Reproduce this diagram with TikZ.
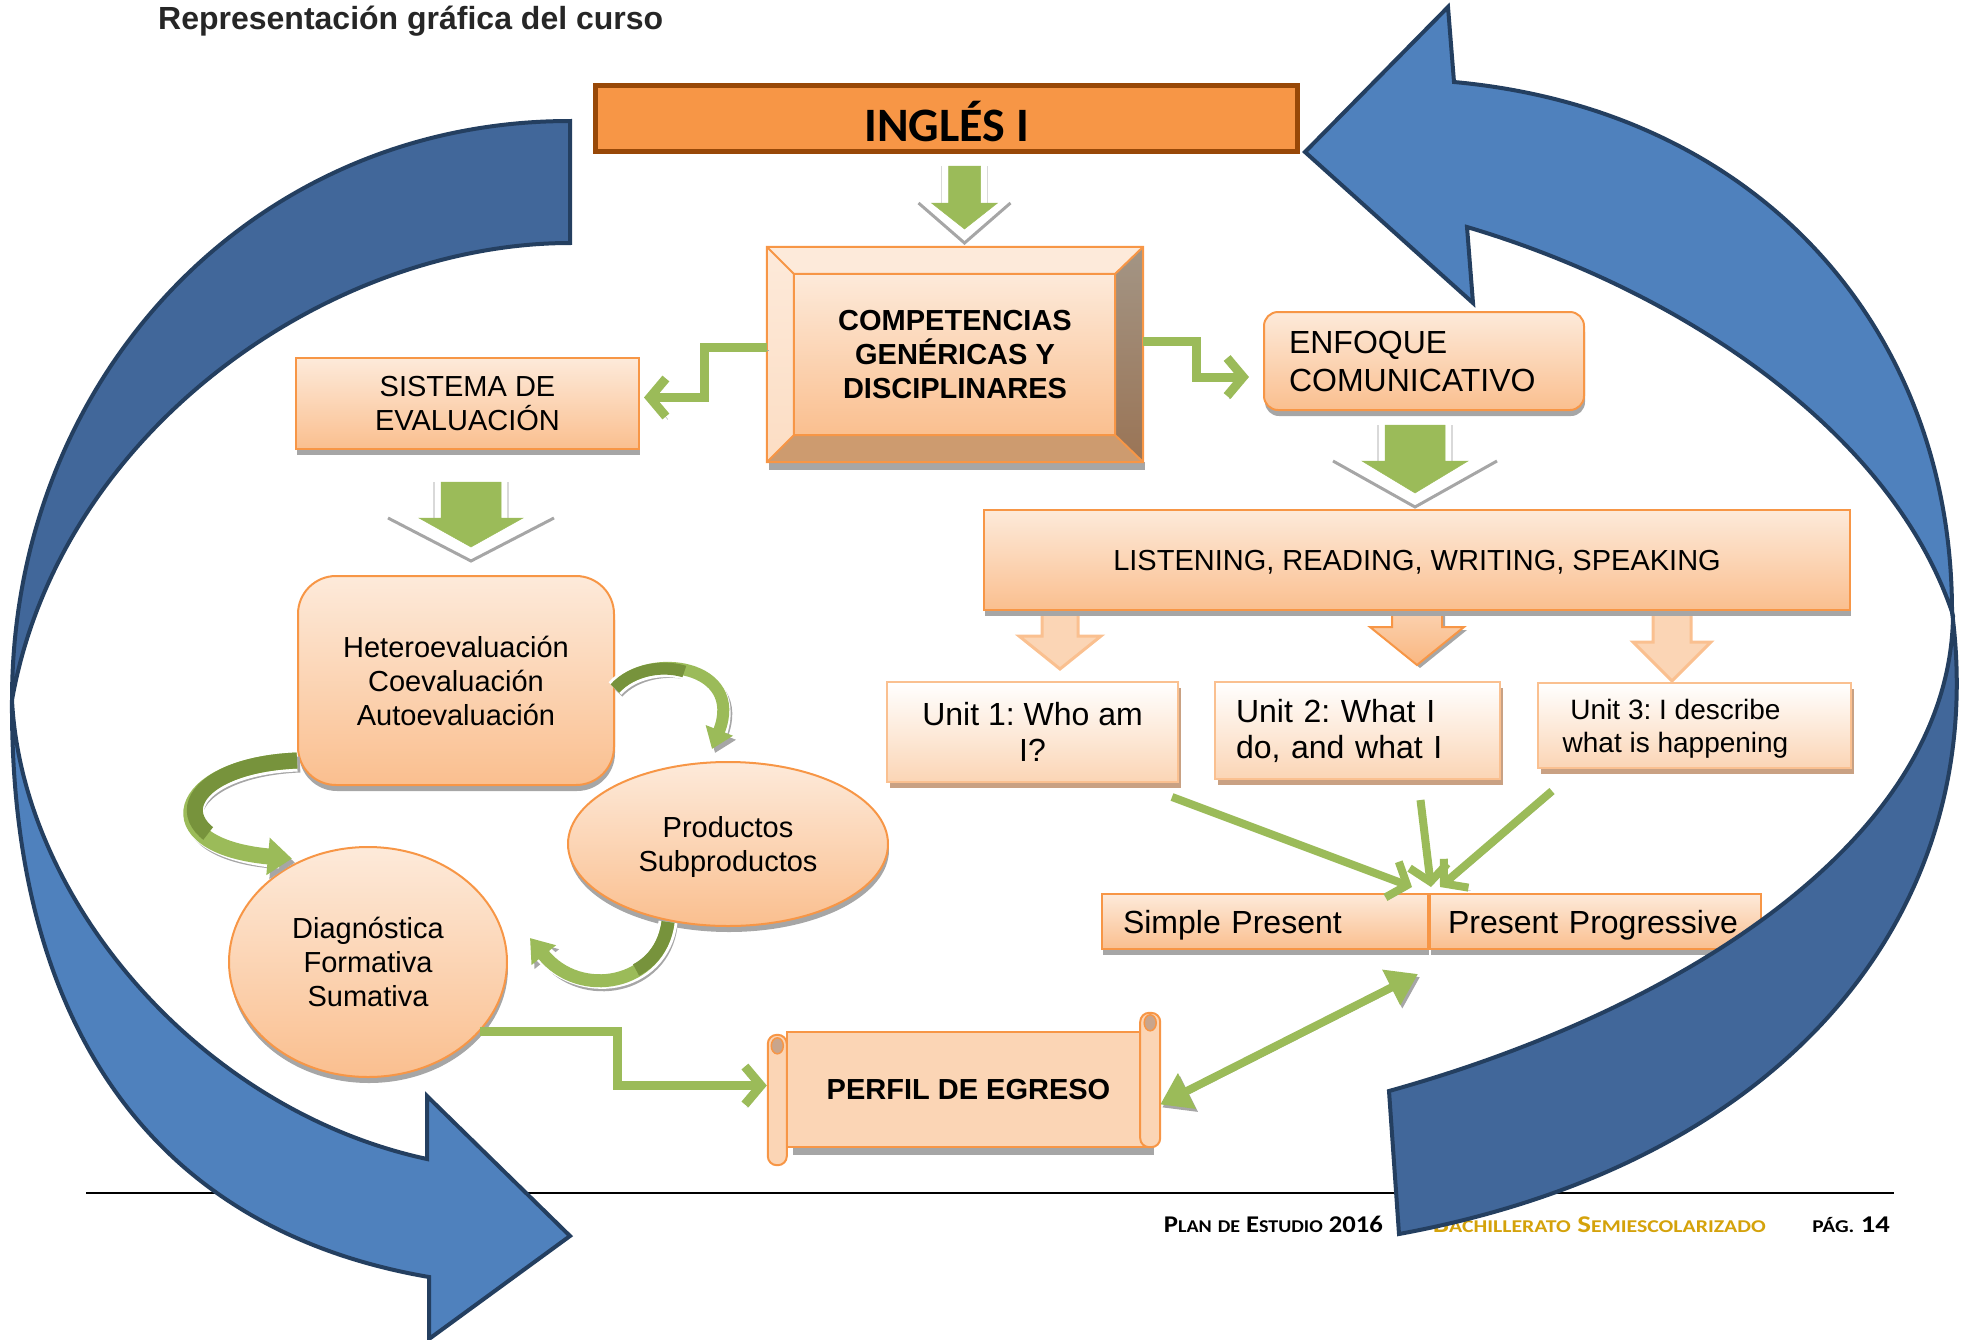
\documentclass[tikz,border=0pt]{standalone}
\usepackage{fontspec}
\usepackage{graphicx}
\setmainfont{Liberation Sans}
\newfontfamily\calibri{Carlito}
\usetikzlibrary{arrows.meta,shapes.geometric,shadows,backgrounds}
\frenchspacing

\definecolor{orangeline}{HTML}{F79646}
\definecolor{orangedark}{HTML}{984807}
\definecolor{peachtop}{HTML}{FDEADA}
\definecolor{peachbot}{HTML}{FABF8F}
\definecolor{peachflat}{HTML}{FBD5B5}
\definecolor{unitline}{HTML}{FAC090}
\definecolor{unitshadow}{HTML}{C9A183}
\definecolor{greenfill}{HTML}{9BBB59}
\definecolor{greendark}{HTML}{77933C}
\definecolor{bluelight}{HTML}{4F81BD}
\definecolor{bluedark}{HTML}{41679A}
\definecolor{blueline}{HTML}{243F60}
\definecolor{shadowgray}{HTML}{A6A6A6}
\definecolor{titlegray}{HTML}{262626}
\definecolor{footgold}{HTML}{D4A20B}
\definecolor{beveltop}{HTML}{A39585}
\definecolor{bevelbot}{HTML}{9A7455}
\definecolor{bevelbottom}{HTML}{CD9B6F}
\definecolor{scrollcurl}{HTML}{C9A58C}

\newcommand{\smc}[1]{{\fontsize{18}{18}\selectfont #1}}
\newcommand{\footfont}{\calibri\bfseries\fontsize{24}{24}\selectfont}
% block arrow pointing down: style, top centre, shaft half width, shaft length, head half width, head length
\newcommand{\blockdown}[6]{%
  \draw[#1] #2 ++(-#3,0) -- ++(2*#3,0) -- ++(0,#4) -- ++(#5-#3,0) -- ++(-#5,#6) -- ++(-#5,-#6) -- ++(#5-#3,0) -- cycle;}
% green arrow with its grey chevron
\newcommand{\greendown}[6]{%
  \draw[chevron] #1 ++(-#6,#3) -- ++(#6,#5+14) -- ++(#6,-#5-14);
  \draw[line width=1.5, black!15] #1 ++(-#2-7,0) -- ++(0,#3) #1 ++(#2+7,0) -- ++(0,#3);
  \blockdown{greenblock}{#1}{#2}{#3}{#4}{#5}}
% curved green arrow with white rim and shadow
\newcommand{\loopgreen}[5]{%
  \draw[line width=#1, shadowgray, transform canvas={xshift=3pt,yshift=-4pt}, -{Triangle[#3]}] #4 #5;
  \draw[line width=#1+6, white, shorten >=12pt] #4 #5;
  \draw[line width=#1, greenfill, -{Triangle[#3]}] #4 #5;
  \draw[line width=#1, greendark, dash pattern=on #2pt off 2000pt] #4 #5;}

\tikzset{
  txt/.style={font=\fontsize{29}{34}\selectfont},
  bigtxt/.style={font=\fontsize{32}{36}\selectfont},
  gradbox/.style={draw=orangeline, line width=2, top color=peachtop, bottom color=peachbot, inner sep=0, align=center,
    drop shadow={shadow xshift=1pt, shadow yshift=-6pt, fill=shadowgray, opacity=1}},
  unitbox/.style={draw=unitline, line width=2, top color=white, bottom color=peachflat, inner sep=0, bigtxt,
    drop shadow={shadow xshift=3pt, shadow yshift=-6pt, fill=unitshadow, opacity=1}},
  greenline/.style={draw=greenfill, line width=9, -{Straight Barb[length=16pt, width=38pt]},
    preaction={draw=shadowgray, transform canvas={xshift=2pt, yshift=-3pt}}},
  chevron/.style={draw=shadowgray, line width=3},
  greenblock/.style={fill=greenfill, draw=greenfill, line width=0.5},
  lightarrow/.style={fill=peachflat, draw=unitline, line width=3},
  midarrow/.style={draw=orangeline, line width=2, top color=peachflat, bottom color=peachbot!80!orangeline,
    drop shadow={shadow xshift=3pt, shadow yshift=-3pt, fill=shadowgray, opacity=1}},
  scrollpart/.style={fill=peachflat, draw=orangeline, line width=2},
  bluefront/.style={fill=bluelight, draw=blueline, line width=4},
  blueback/.style={fill=bluedark, draw=blueline, line width=4},
}

\begin{document}
\begin{tikzpicture}[x=1pt, y=-1pt]
  \useasboundingbox (0,0) rectangle (1976,1339);

  % title and footer
  \node[anchor=base west, inner sep=0, text=titlegray, font=\bfseries\fontsize{32}{32}\selectfont] (title) at (158,29) {Representación gráfica del curso};
  \draw[line width=2] (86,1193) -- (1894,1193);
  \node[anchor=base east, inner sep=0, font=\footfont] (plan) at (1383,1232) {\scalebox{1.11}[1]{P\smc{LAN} \smc{DE} E\smc{STUDIO} 2016}};
  \node[anchor=base east, inner sep=0, text=footgold, font=\footfont] (bachillerato) at (1766,1232) {\scalebox{1.21}[1]{B\smc{ACHILLERATO} S\smc{EMIESCOLARIZADO}}};
  \node[anchor=base east, inner sep=0, font=\footfont] (pagina) at (1890,1232) {\scalebox{1.19}[1]{\smc{PÁG.} 14}};

  % boxes
  \node[draw=orangedark, line width=5, fill=orangeline, minimum width=702, minimum height=66, inner sep=0,
    font=\calibri\bfseries\fontsize{48}{48}\selectfont] (ingles) at (946.5,118.5) {\raisebox{-23pt}[0pt][0pt]{INGLÉS I}};
  \node[inner sep=0, minimum width=376, minimum height=215, align=center,
    font=\bfseries\fontsize{29}{34}\selectfont] (comp) at (955,354.5) {COMPETENCIAS\\GENÉRICAS Y\\DISCIPLINARES};
  \node[gradbox, txt, minimum width=343, minimum height=91] (sistema) at (467.5,403.5) {SISTEMA DE\\EVALUACIÓN};
  \node[gradbox, font=\fontsize{32}{38}\selectfont, rounded corners=14, minimum width=320, minimum height=98, text width=270,
    align=left] (enfoque) at (1424,361) {ENFOQUE\\COMUNICATIVO};
  \node[gradbox, txt, rounded corners=38, minimum width=316, minimum height=209] (hetero) at (456,680.5) {Heteroevaluación\\Coevaluación\hspace*{30pt}\\Autoevaluación};
  \node[gradbox, txt, ellipse, minimum width=320, minimum height=164, text depth=-2pt] (productos) at (728,844) {Productos\\Subproductos};
  \node[gradbox, txt, ellipse, minimum width=278, minimum height=230, text depth=-9pt] (diag) at (368,962) {Diagnóstica\\Formativa\\Sumativa};
  \node[inner sep=0, minimum width=363, minimum height=115, font=\bfseries\fontsize{29}{34}\selectfont] (perfil) at (968.5,1089.5) {PERFIL DE EGRESO};
  \node[gradbox, txt, minimum width=866, minimum height=100, text depth=-2pt] (listen) at (1417,560) {LISTENING, READING, WRITING, SPEAKING};
  \node[unitbox, minimum width=291, minimum height=100, align=center] (unit1) at (1032.5,732) {Unit 1: Who am\\I?};
  \node[unitbox, minimum width=285, minimum height=97, text width=243, align=left] (unit2) at (1357.5,730.5) {Unit 2: What I\\do, and what I};
  \node[unitbox, minimum width=313, minimum height=85] (unit3) at (1694.5,725.5) {};
  \node[align=center, inner sep=0, text depth=0pt, font=\fontsize{28}{33}\selectfont] (unit3text) at ([xshift=-19]unit3.center) {Unit 3: I describe\\what is happening};
  \node[gradbox, bigtxt, minimum width=326, minimum height=55, text width=284, align=left, text depth=-5pt] (simple) at (1265,921.5) {Simple Present};
  \node[gradbox, bigtxt, minimum width=331, minimum height=55, text width=295, align=left, text depth=-5pt] (progressive) at (1595.5,921.5) {Present Progressive};

  \begin{scope}[on background layer]
    % bevel of the competencias box
    \fill[shadowgray] ([xshift=2]comp.south west) rectangle ([shift={(2,8)}]comp.south east);
    \fill[peachtop] (comp.north west) -- (comp.north east) -- ([shift={(-28,27)}]comp.north east) -- ([shift={(27,27)}]comp.north west) -- cycle;
    \shade[top color=peachtop, bottom color=peachtop!70!peachbot] (comp.north west) -- ([shift={(27,27)}]comp.north west) -- ([shift={(27,-27)}]comp.south west) -- (comp.south west) -- cycle;
    \shade[top color=beveltop, bottom color=bevelbot] (comp.north east) -- (comp.south east) -- ([shift={(-28,-27)}]comp.south east) -- ([shift={(-28,27)}]comp.north east) -- cycle;
    \fill[bevelbottom] (comp.south west) -- ([shift={(27,-27)}]comp.south west) -- ([shift={(-28,-27)}]comp.south east) -- (comp.south east) -- cycle;
    \shade[top color=peachtop, bottom color=peachbot] ([shift={(27,27)}]comp.north west) rectangle ([shift={(-28,-27)}]comp.south east);
    \draw[orangeline, line width=2] (comp.north west) rectangle (comp.south east)
      ([shift={(27,27)}]comp.north west) rectangle ([shift={(-28,-27)}]comp.south east)
      (comp.north west) -- ([shift={(27,27)}]comp.north west)
      (comp.north east) -- ([shift={(-28,27)}]comp.north east)
      (comp.south west) -- ([shift={(27,-27)}]comp.south west)
      (comp.south east) -- ([shift={(-28,-27)}]comp.south east);
    % scroll of perfil de egreso
    \fill[shadowgray] ([shift={(6,6)}]perfil.north west) rectangle ([shift={(4,8)}]perfil.south east);
    \filldraw[scrollpart] (perfil.north west) rectangle (perfil.south east);
    \filldraw[scrollpart, rounded corners=9] ([shift={(-19,3)}]perfil.north west) rectangle ([shift={(0,18)}]perfil.south west);
    \filldraw[fill=scrollcurl, draw=orangeline, line width=1.5] ([shift={(-9.5,14)}]perfil.north west) ellipse [x radius=6, y radius=8];
    \filldraw[scrollpart, rounded corners=9] ([shift={(-10,-19)}]perfil.north east) rectangle ([shift={(10,0)}]perfil.south east);
    \filldraw[fill=scrollcurl, draw=orangeline, line width=1.5] ([shift={(0,-9)}]perfil.north east) ellipse [x radius=6, y radius=8];
    % orange arrows below listening
    \blockdown{lightarrow}{([shift={(-357,-6)}]listen.south)}{18}{31}{41}{33}
    \blockdown{midarrow}{([shift={(0,-6)}]listen.south)}{25}{22}{47}{38}
    \blockdown{lightarrow}{([shift={(255,-6)}]listen.south)}{19}{37}{39}{39}
  \end{scope}

  % green block arrows
  \greendown{([shift={(18,12)}]ingles.south)}{16}{37}{33}{26}{46}
  \greendown{([shift={(3.5,32)}]sistema.south)}{30}{36}{52}{29}{83}
  \greendown{([shift={(-9,14)}]enfoque.south)}{30}{36}{53}{32}{82}

  % connectors
  \draw[greenline] ([yshift=7]comp.west) -- ++(-62,0) |- ([shift={(4,-6)}]sistema.east);
  \draw[greenline] ([yshift=13]comp.east) -- ++(53,0) |- ([shift={(-14,16)}]enfoque.west);
  \draw[greenline] (diag.-32) -- ++(138,0) |- ([shift={(-20,-4)}]perfil.west);
  \draw[greenline, line width=8, {Triangle[length=30pt, width=38pt]}-{Triangle[length=30pt, width=38pt]}] ([shift={(10,15)}]perfil.east) -- ([shift={(-11,24)}]simple.south east);
  \draw[greenline, line width=8] ([shift={(-7,14)}]unit1.south east) -- ([shift={(-17,-6)}]simple.north east);
  \draw[greenline, line width=8] ([shift={(63,20)}]unit2.south) -- ([shift={(2,-6)}]simple.north east);
  \draw[greenline, line width=8] ([shift={(15,22)}]unit3.south west) -- ([shift={(11,-6)}]simple.north east);

  % evaluation cycle
  \loopgreen{16}{150}{length=24pt, width=36pt}{([shift={(0,80)}]hetero.west)}{.. controls +(-123,5) and +(-142,-13) .. ([yshift=6]diag.128)}
  \loopgreen{12}{75}{length=20pt, width=28pt}{([yshift=-8]hetero.east)}{.. controls +(34,-38) and +(33,-84) .. ([shift={(-16,-12)}]productos.north)}
  \loopgreen{13}{60}{length=22pt, width=30pt}{([shift={(-60,-5)}]productos.south)}{.. controls +(-8,63) and +(50,62) .. ([shift={(22,-24)}]diag.east)}

  % blue cycle arrows
  \filldraw[blueback] (570,121) .. controls (250,121) and (12,380) .. (12,700) .. controls (60,430) and (330,243) .. (570,243) -- cycle;
  \filldraw[bluefront] (12,700) .. controls (10,1020) and (149,1229) .. (429,1277) -- (429,1339) -- (570,1236) -- (427,1096) -- (427,1159) .. controls (200,1110) and (22,900) .. (12,700) -- cycle;
  \filldraw[blueback] (1952,612) .. controls (1990,900) and (1800,1160) .. (1399,1234) -- (1389,1091) .. controls (1680,1010) and (1950,840) .. (1953,616) -- cycle;
  \filldraw[bluefront] (1305,152) -- (1448,7) -- (1454,82) .. controls (1760,110) and (1952,330) .. (1952,612) .. controls (1890,430) and (1680,290) .. (1467,227) -- (1473,303) -- cycle;
\end{tikzpicture}
\end{document}
